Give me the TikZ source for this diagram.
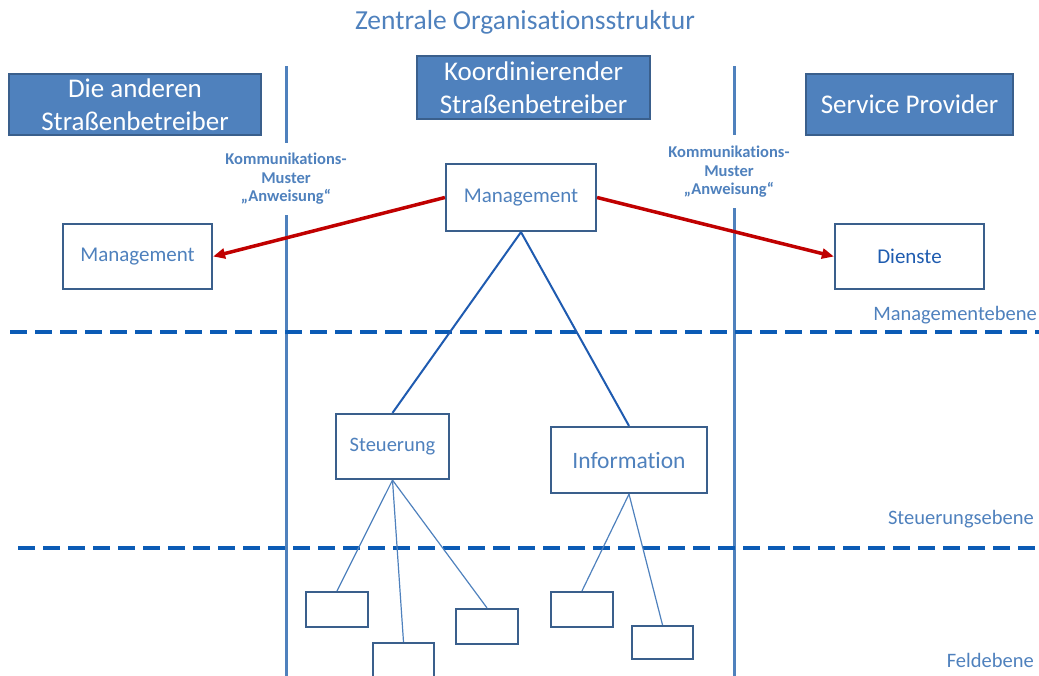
\documentclass[tikz,border=0pt]{standalone}
\usepackage{fontspec}
\setmainfont[Ligatures=NoCommon]{Carlito}
\usetikzlibrary{arrows.meta}
\definecolor{accent}{HTML}{4F81BD}
\definecolor{edgeblue}{HTML}{3A5F8C}
\definecolor{dashblue}{HTML}{0B5BB5}
\definecolor{treeblue}{HTML}{1F5BB0}
\definecolor{arrowred}{HTML}{C00000}
\definecolor{darktext}{HTML}{1F5CB0}
\begin{document}
\begin{tikzpicture}[x=1pt,y=-1pt,
  header/.style={draw=edgeblue, fill=accent, line width=1.5pt, text=white, inner sep=0pt, align=center, font=\fontsize{27}{33}\selectfont},
  unit/.style={draw=edgeblue, fill=white, line width=2.2pt, text=accent, inner sep=0pt, align=center},
  leaf/.style={draw=edgeblue, fill=white, line width=2.2pt, inner sep=0pt},
  divider/.style={accent, line width=3pt},
  level/.style={dashblue, line width=3.5pt, dash pattern=on 17pt off 8pt},
  treeline/.style={treeblue, line width=2pt},
  leafline/.style={accent, line width=1.2pt},
  order/.style={arrowred, line width=3.5pt, -{Triangle[length=12pt,width=10pt]}},
  commlabel/.style={text=accent, align=center, inner sep=0pt, font=\bfseries\fontsize{16.5}{18.5}\selectfont},
  levellabel/.style={text=accent, inner sep=0pt, anchor=east, font=\fontsize{20.5}{24}\selectfont}
]
\useasboundingbox (0,0) rectangle (1039,675);

% title
\node[text=accent, inner sep=0pt, font=\fontsize{27.5}{32}\selectfont] (title) at (525,22) {Zentrale Organisationsstruktur};

% vertical dividers
\coordinate (vl1) at (286,66);
\coordinate (vl2) at (286,143);
\coordinate (vl3) at (286,215);
\coordinate (vl4) at (286,676);
\coordinate (vr1) at (734,66);
\coordinate (vr2) at (734,135);
\coordinate (vr3) at (734,208);
\coordinate (vr4) at (734,676);
\draw[divider] (vl1) -- (vl2);
\draw[divider] (vl3) -- (vl4);
\draw[divider] (vr1) -- (vr2);
\draw[divider] (vr3) -- (vr4);

% level dashed lines
\coordinate (d1a) at (10,332);
\coordinate (d1b) at (1039,332);
\coordinate (d2a) at (18,548);
\coordinate (d2b) at (1039,548);
\draw[level] (d1a) -- (d1b);
\draw[level] (d2a) -- (d2b);

% headers
\node[header, minimum width=252pt, minimum height=61pt] (hdrL) at (135,104.5) {Die anderen\\Straßenbetreiber};
\node[header, minimum width=233pt, minimum height=63pt] (hdrC) at (533.5,87.5) {Koordinierender\\Straßenbetreiber};
\node[header, minimum width=207pt, minimum height=61pt] (hdrR) at (909.5,104.5) {Service Provider};

% communication labels
\node[commlabel] (commL) at (286,179) {Kommunikations-\\Muster\\„Anweisung“};
\node[commlabel] (commR) at (729,172) {Kommunikations-\\Muster\\„Anweisung“};

% units
\node[unit, minimum width=150pt, minimum height=67pt, font=\fontsize{21}{25}\selectfont] (mgmtC) at (521,197.5) {Management};
\node[unit, minimum width=149pt, minimum height=65pt, font=\fontsize{21}{25}\selectfont] (mgmtL) at (137.5,256.5) {Management};
\node[unit, minimum width=149pt, minimum height=65pt, text=darktext, font=\fontsize{21}{25}\selectfont] (dienste) at (909.5,256.5) {Dienste};
\node[unit, minimum width=113pt, minimum height=65pt, font=\fontsize{20.5}{24}\selectfont] (steu) at (392.5,446.5) {Steuerung};
\node[unit, minimum width=156pt, minimum height=66pt, font=\fontsize{23.5}{28}\selectfont] (info) at (629,460) {Information};

% leaves
\node[leaf, minimum width=62pt, minimum height=35pt] (b1) at (337,609.5) {};
\node[leaf, minimum width=61pt, minimum height=34pt] (b2) at (403.5,660) {};
\node[leaf, minimum width=62pt, minimum height=35pt] (b3) at (487,626.5) {};
\node[leaf, minimum width=62pt, minimum height=35pt] (b4) at (582,609.5) {};
\node[leaf, minimum width=61pt, minimum height=33pt] (b5) at (662.5,642.5) {};

% tree connectors
\draw[treeline] (mgmtC.south) -- (steu.north);
\draw[treeline] (mgmtC.south) -- (info.north);
\draw[leafline] (steu.south) -- (b1.north);
\draw[leafline] (steu.south) -- (b2.north);
\draw[leafline] (steu.south) -- (b3.north);
\draw[leafline] (info.south) -- (b4.north);
\draw[leafline] (info.south) -- (b5.north);

% instruction arrows
\draw[order] (mgmtC.west) -- (mgmtL.east);
\draw[order] (mgmtC.east) -- (dienste.west);

% level labels
\node[levellabel] (lvM) at (1037,315) {Managementebene};
\node[levellabel] (lvS) at (1034,519) {Steuerungsebene};
\node[levellabel] (lvF) at (1034,660) {Feldebene};
\end{tikzpicture}
\end{document}
